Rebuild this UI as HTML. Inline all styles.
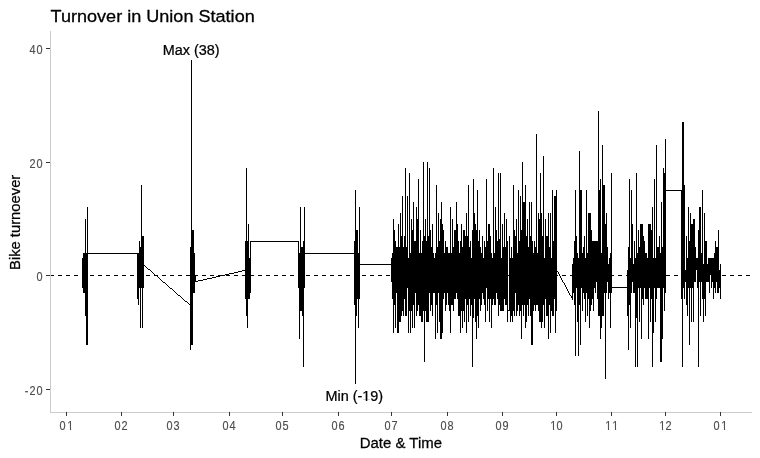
<!DOCTYPE html>
<html lang="en"><head><meta charset="utf-8"><title>Turnover in Union Station</title>
<style>
html,body{margin:0;padding:0;background:#fff;}
body{width:760px;height:458px;overflow:hidden;position:relative;font-family:"Liberation Sans",Arial,sans-serif;}
svg{position:absolute;left:0;top:0;display:block;}
text{font-family:"Liberation Sans",Arial,sans-serif;}
.title{font-size:18px;fill:#000;stroke:#000;stroke-width:0.3px;}
.lab{font-size:15px;fill:#000;stroke:#000;stroke-width:0.25px;}
.tick{font-size:11.73px;fill:#4d4d4d;stroke:#4d4d4d;stroke-width:0.15px;}
</style></head><body>
<svg width="760" height="458" viewBox="0 0 760 458">
<rect x="0" y="0" width="760" height="458" fill="#fff"/>

<g id="series" shape-rendering="crispEdges" fill="#000" stroke="none">
<rect x="82" y="258" width="1" height="30"/>
<rect x="83" y="253" width="2" height="40"/>
<rect x="85" y="219" width="1" height="97"/>
<rect x="86" y="253" width="1" height="92"/>
<rect x="87" y="207" width="1" height="138"/>
<rect x="137" y="253" width="1" height="46"/>
<rect x="138" y="253" width="1" height="52"/>
<rect x="139" y="241" width="1" height="47"/>
<rect x="140" y="247" width="1" height="81"/>
<rect x="141" y="185" width="1" height="103"/>
<rect x="142" y="236" width="1" height="92"/>
<rect x="143" y="236" width="1" height="52"/>
<rect x="190" y="247" width="1" height="103"/>
<rect x="191" y="60" width="1" height="285"/>
<rect x="192" y="230" width="1" height="115"/>
<rect x="193" y="230" width="1" height="63"/>
<rect x="194" y="253" width="1" height="40"/>
<rect x="195" y="275" width="1" height="7"/>
<rect x="245" y="241" width="1" height="58"/>
<rect x="246" y="168" width="1" height="148"/>
<rect x="247" y="241" width="1" height="87"/>
<rect x="248" y="224" width="1" height="75"/>
<rect x="249" y="258" width="1" height="41"/>
<rect x="250" y="241" width="1" height="52"/>
<rect x="298" y="241" width="1" height="47"/>
<rect x="299" y="253" width="1" height="86"/>
<rect x="300" y="207" width="1" height="104"/>
<rect x="301" y="247" width="1" height="64"/>
<rect x="302" y="247" width="1" height="69"/>
<rect x="303" y="241" width="1" height="126"/>
<rect x="304" y="207" width="1" height="81"/>
<rect x="354" y="241" width="1" height="64"/>
<rect x="355" y="190" width="1" height="194"/>
<rect x="356" y="230" width="1" height="86"/>
<rect x="357" y="230" width="1" height="69"/>
<rect x="358" y="253" width="1" height="75"/>
<rect x="359" y="207" width="1" height="92"/>
<rect x="391" y="258" width="1" height="24"/>
<rect x="392" y="253" width="1" height="46"/>
<rect x="393" y="219" width="1" height="114"/>
<rect x="394" y="230" width="1" height="75"/>
<rect x="395" y="241" width="1" height="87"/>
<rect x="396" y="247" width="1" height="46"/>
<rect x="397" y="247" width="1" height="86"/>
<rect x="398" y="224" width="1" height="109"/>
<rect x="399" y="247" width="1" height="75"/>
<rect x="400" y="213" width="1" height="109"/>
<rect x="401" y="236" width="1" height="80"/>
<rect x="402" y="196" width="1" height="115"/>
<rect x="403" y="247" width="1" height="69"/>
<rect x="404" y="236" width="1" height="63"/>
<rect x="405" y="168" width="1" height="148"/>
<rect x="406" y="247" width="1" height="69"/>
<rect x="407" y="196" width="1" height="92"/>
<rect x="408" y="258" width="1" height="75"/>
<rect x="409" y="173" width="1" height="138"/>
<rect x="410" y="253" width="1" height="80"/>
<rect x="411" y="219" width="1" height="92"/>
<rect x="412" y="230" width="1" height="98"/>
<rect x="413" y="202" width="1" height="103"/>
<rect x="414" y="241" width="1" height="87"/>
<rect x="415" y="241" width="1" height="52"/>
<rect x="416" y="207" width="1" height="109"/>
<rect x="417" y="219" width="1" height="92"/>
<rect x="418" y="179" width="1" height="126"/>
<rect x="419" y="253" width="1" height="63"/>
<rect x="420" y="230" width="1" height="86"/>
<rect x="421" y="253" width="1" height="69"/>
<rect x="422" y="241" width="1" height="81"/>
<rect x="423" y="162" width="1" height="149"/>
<rect x="424" y="236" width="1" height="126"/>
<rect x="425" y="219" width="1" height="92"/>
<rect x="426" y="241" width="1" height="81"/>
<rect x="427" y="162" width="1" height="160"/>
<rect x="428" y="236" width="1" height="86"/>
<rect x="429" y="168" width="1" height="125"/>
<rect x="430" y="230" width="1" height="81"/>
<rect x="431" y="247" width="1" height="58"/>
<rect x="432" y="224" width="1" height="92"/>
<rect x="433" y="253" width="1" height="40"/>
<rect x="434" y="258" width="1" height="35"/>
<rect x="435" y="253" width="1" height="86"/>
<rect x="436" y="185" width="1" height="120"/>
<rect x="437" y="247" width="1" height="86"/>
<rect x="438" y="213" width="1" height="80"/>
<rect x="439" y="241" width="1" height="81"/>
<rect x="440" y="219" width="1" height="120"/>
<rect x="441" y="202" width="1" height="137"/>
<rect x="442" y="224" width="1" height="109"/>
<rect x="443" y="230" width="1" height="69"/>
<rect x="444" y="253" width="1" height="40"/>
<rect x="445" y="241" width="1" height="70"/>
<rect x="446" y="247" width="1" height="58"/>
<rect x="447" y="247" width="1" height="46"/>
<rect x="448" y="253" width="1" height="52"/>
<rect x="449" y="253" width="1" height="58"/>
<rect x="450" y="207" width="1" height="126"/>
<rect x="451" y="253" width="1" height="52"/>
<rect x="452" y="219" width="1" height="86"/>
<rect x="453" y="247" width="1" height="64"/>
<rect x="454" y="230" width="2" height="69"/>
<rect x="456" y="202" width="1" height="91"/>
<rect x="457" y="224" width="1" height="75"/>
<rect x="458" y="241" width="1" height="75"/>
<rect x="459" y="253" width="1" height="63"/>
<rect x="460" y="241" width="1" height="92"/>
<rect x="461" y="224" width="1" height="87"/>
<rect x="462" y="247" width="1" height="81"/>
<rect x="463" y="230" width="1" height="81"/>
<rect x="464" y="230" width="1" height="92"/>
<rect x="465" y="236" width="1" height="63"/>
<rect x="466" y="213" width="1" height="120"/>
<rect x="467" y="236" width="1" height="69"/>
<rect x="468" y="185" width="1" height="137"/>
<rect x="469" y="247" width="1" height="52"/>
<rect x="470" y="241" width="1" height="75"/>
<rect x="471" y="258" width="1" height="47"/>
<rect x="472" y="230" width="1" height="137"/>
<rect x="473" y="179" width="1" height="139"/>
<rect x="474" y="213" width="1" height="86"/>
<rect x="475" y="224" width="1" height="98"/>
<rect x="476" y="230" width="1" height="109"/>
<rect x="477" y="190" width="1" height="126"/>
<rect x="478" y="241" width="1" height="87"/>
<rect x="479" y="230" width="1" height="69"/>
<rect x="480" y="247" width="1" height="64"/>
<rect x="481" y="253" width="1" height="52"/>
<rect x="482" y="236" width="1" height="57"/>
<rect x="483" y="258" width="1" height="41"/>
<rect x="484" y="241" width="1" height="64"/>
<rect x="485" y="247" width="1" height="75"/>
<rect x="486" y="179" width="1" height="109"/>
<rect x="487" y="241" width="1" height="70"/>
<rect x="488" y="224" width="1" height="75"/>
<rect x="489" y="224" width="1" height="98"/>
<rect x="490" y="236" width="1" height="63"/>
<rect x="491" y="253" width="1" height="75"/>
<rect x="492" y="258" width="1" height="47"/>
<rect x="493" y="168" width="1" height="131"/>
<rect x="494" y="253" width="1" height="52"/>
<rect x="495" y="207" width="1" height="98"/>
<rect x="496" y="230" width="1" height="63"/>
<rect x="497" y="241" width="1" height="58"/>
<rect x="498" y="173" width="1" height="143"/>
<rect x="499" y="239" width="1" height="66"/>
<rect x="500" y="173" width="1" height="138"/>
<rect x="501" y="258" width="1" height="53"/>
<rect x="502" y="224" width="1" height="87"/>
<rect x="503" y="247" width="1" height="64"/>
<rect x="504" y="213" width="1" height="86"/>
<rect x="505" y="247" width="1" height="58"/>
<rect x="506" y="219" width="1" height="86"/>
<rect x="507" y="241" width="1" height="81"/>
<rect x="508" y="310" width="1" height="1"/>
<rect x="509" y="236" width="1" height="75"/>
<rect x="510" y="258" width="1" height="64"/>
<rect x="511" y="247" width="1" height="69"/>
<rect x="512" y="258" width="1" height="64"/>
<rect x="513" y="185" width="1" height="126"/>
<rect x="514" y="230" width="1" height="86"/>
<rect x="515" y="236" width="1" height="57"/>
<rect x="516" y="219" width="1" height="97"/>
<rect x="517" y="253" width="1" height="58"/>
<rect x="518" y="190" width="1" height="115"/>
<rect x="519" y="241" width="1" height="75"/>
<rect x="520" y="196" width="1" height="115"/>
<rect x="521" y="230" width="1" height="109"/>
<rect x="522" y="162" width="1" height="143"/>
<rect x="523" y="202" width="1" height="114"/>
<rect x="524" y="202" width="1" height="103"/>
<rect x="525" y="185" width="1" height="143"/>
<rect x="526" y="236" width="1" height="86"/>
<rect x="527" y="219" width="1" height="86"/>
<rect x="528" y="247" width="1" height="69"/>
<rect x="529" y="202" width="1" height="97"/>
<rect x="530" y="236" width="1" height="80"/>
<rect x="531" y="202" width="1" height="143"/>
<rect x="532" y="241" width="1" height="104"/>
<rect x="533" y="253" width="1" height="58"/>
<rect x="534" y="241" width="1" height="64"/>
<rect x="535" y="247" width="1" height="64"/>
<rect x="536" y="134" width="1" height="171"/>
<rect x="537" y="253" width="1" height="52"/>
<rect x="538" y="213" width="1" height="98"/>
<rect x="539" y="219" width="1" height="103"/>
<rect x="540" y="173" width="1" height="149"/>
<rect x="541" y="213" width="1" height="115"/>
<rect x="542" y="236" width="1" height="86"/>
<rect x="543" y="156" width="1" height="149"/>
<rect x="544" y="258" width="1" height="70"/>
<rect x="545" y="219" width="1" height="80"/>
<rect x="546" y="236" width="2" height="80"/>
<rect x="548" y="213" width="1" height="126"/>
<rect x="549" y="247" width="1" height="58"/>
<rect x="550" y="213" width="1" height="120"/>
<rect x="551" y="258" width="1" height="53"/>
<rect x="552" y="190" width="1" height="126"/>
<rect x="553" y="241" width="1" height="75"/>
<rect x="554" y="196" width="1" height="103"/>
<rect x="555" y="196" width="1" height="137"/>
<rect x="556" y="190" width="1" height="121"/>
<rect x="572" y="264" width="1" height="35"/>
<rect x="573" y="258" width="1" height="35"/>
<rect x="574" y="241" width="1" height="64"/>
<rect x="575" y="190" width="1" height="166"/>
<rect x="576" y="236" width="1" height="52"/>
<rect x="577" y="253" width="1" height="69"/>
<rect x="578" y="258" width="1" height="98"/>
<rect x="579" y="151" width="1" height="154"/>
<rect x="580" y="190" width="1" height="155"/>
<rect x="581" y="190" width="1" height="98"/>
<rect x="582" y="253" width="1" height="58"/>
<rect x="583" y="247" width="1" height="46"/>
<rect x="584" y="236" width="1" height="63"/>
<rect x="585" y="258" width="1" height="64"/>
<rect x="586" y="190" width="1" height="103"/>
<rect x="587" y="253" width="1" height="63"/>
<rect x="588" y="213" width="1" height="86"/>
<rect x="589" y="213" width="1" height="115"/>
<rect x="590" y="213" width="1" height="98"/>
<rect x="591" y="230" width="1" height="75"/>
<rect x="592" y="241" width="1" height="58"/>
<rect x="593" y="241" width="1" height="70"/>
<rect x="594" y="241" width="1" height="47"/>
<rect x="595" y="241" width="1" height="52"/>
<rect x="596" y="241" width="1" height="41"/>
<rect x="597" y="241" width="1" height="58"/>
<rect x="598" y="111" width="1" height="205"/>
<rect x="599" y="190" width="1" height="126"/>
<rect x="600" y="179" width="1" height="160"/>
<rect x="601" y="253" width="1" height="75"/>
<rect x="602" y="145" width="1" height="171"/>
<rect x="603" y="185" width="1" height="131"/>
<rect x="604" y="185" width="1" height="108"/>
<rect x="605" y="224" width="1" height="155"/>
<rect x="606" y="213" width="1" height="80"/>
<rect x="607" y="247" width="1" height="35"/>
<rect x="608" y="264" width="1" height="35"/>
<rect x="609" y="258" width="1" height="35"/>
<rect x="610" y="253" width="1" height="75"/>
<rect x="611" y="173" width="1" height="120"/>
<rect x="627" y="270" width="1" height="46"/>
<rect x="628" y="247" width="1" height="103"/>
<rect x="629" y="179" width="1" height="126"/>
<rect x="630" y="258" width="1" height="70"/>
<rect x="631" y="190" width="1" height="103"/>
<rect x="632" y="224" width="1" height="58"/>
<rect x="633" y="264" width="1" height="29"/>
<rect x="634" y="241" width="1" height="52"/>
<rect x="635" y="258" width="1" height="109"/>
<rect x="636" y="173" width="1" height="145"/>
<rect x="637" y="253" width="1" height="114"/>
<rect x="638" y="230" width="1" height="58"/>
<rect x="639" y="247" width="1" height="75"/>
<rect x="640" y="224" width="1" height="64"/>
<rect x="641" y="224" width="1" height="115"/>
<rect x="642" y="224" width="1" height="75"/>
<rect x="643" y="236" width="1" height="69"/>
<rect x="644" y="241" width="1" height="47"/>
<rect x="645" y="253" width="2" height="46"/>
<rect x="647" y="258" width="1" height="41"/>
<rect x="648" y="224" width="1" height="115"/>
<rect x="649" y="224" width="1" height="64"/>
<rect x="650" y="224" width="1" height="98"/>
<rect x="651" y="230" width="1" height="69"/>
<rect x="652" y="207" width="1" height="160"/>
<rect x="653" y="258" width="1" height="75"/>
<rect x="654" y="179" width="1" height="109"/>
<rect x="655" y="258" width="1" height="64"/>
<rect x="656" y="145" width="1" height="154"/>
<rect x="657" y="247" width="2" height="41"/>
<rect x="659" y="236" width="1" height="52"/>
<rect x="660" y="253" width="1" height="109"/>
<rect x="661" y="202" width="1" height="160"/>
<rect x="662" y="247" width="1" height="92"/>
<rect x="663" y="168" width="1" height="120"/>
<rect x="664" y="173" width="1" height="138"/>
<rect x="665" y="139" width="1" height="154"/>
<rect x="681" y="190" width="1" height="109"/>
<rect x="682" y="122" width="1" height="245"/>
<rect x="683" y="122" width="1" height="166"/>
<rect x="684" y="185" width="1" height="114"/>
<rect x="685" y="270" width="1" height="12"/>
<rect x="686" y="236" width="1" height="69"/>
<rect x="687" y="258" width="1" height="58"/>
<rect x="688" y="207" width="1" height="81"/>
<rect x="689" y="241" width="1" height="104"/>
<rect x="690" y="213" width="1" height="75"/>
<rect x="691" y="224" width="1" height="98"/>
<rect x="692" y="224" width="1" height="64"/>
<rect x="693" y="219" width="1" height="103"/>
<rect x="694" y="219" width="1" height="63"/>
<rect x="695" y="247" width="1" height="35"/>
<rect x="696" y="258" width="1" height="12"/>
<rect x="697" y="258" width="1" height="30"/>
<rect x="698" y="230" width="1" height="137"/>
<rect x="699" y="207" width="1" height="75"/>
<rect x="700" y="207" width="1" height="109"/>
<rect x="701" y="253" width="1" height="29"/>
<rect x="702" y="190" width="1" height="109"/>
<rect x="703" y="264" width="1" height="58"/>
<rect x="704" y="213" width="1" height="86"/>
<rect x="705" y="241" width="1" height="75"/>
<rect x="706" y="241" width="1" height="41"/>
<rect x="707" y="264" width="1" height="18"/>
<rect x="708" y="258" width="1" height="24"/>
<rect x="709" y="258" width="1" height="35"/>
<rect x="710" y="258" width="1" height="17"/>
<rect x="711" y="258" width="1" height="30"/>
<rect x="712" y="258" width="1" height="24"/>
<rect x="713" y="258" width="1" height="41"/>
<rect x="714" y="253" width="1" height="35"/>
<rect x="715" y="241" width="1" height="52"/>
<rect x="716" y="247" width="1" height="35"/>
<rect x="717" y="247" width="1" height="46"/>
<rect x="718" y="230" width="1" height="63"/>
<rect x="719" y="270" width="1" height="18"/>
<rect x="720" y="264" width="1" height="35"/>
<rect x="88" y="253" width="49" height="1"/>
<rect x="144" y="265" width="1" height="1"/>
<rect x="145" y="266" width="1" height="1"/>
<rect x="146" y="267" width="1" height="1"/>
<rect x="147" y="268" width="1" height="1"/>
<rect x="148" y="269" width="2" height="1"/>
<rect x="150" y="270" width="1" height="1"/>
<rect x="151" y="271" width="1" height="1"/>
<rect x="152" y="272" width="1" height="1"/>
<rect x="153" y="273" width="1" height="1"/>
<rect x="154" y="274" width="1" height="1"/>
<rect x="155" y="275" width="2" height="1"/>
<rect x="157" y="276" width="1" height="1"/>
<rect x="158" y="277" width="1" height="1"/>
<rect x="159" y="278" width="1" height="1"/>
<rect x="160" y="279" width="1" height="1"/>
<rect x="161" y="280" width="1" height="1"/>
<rect x="162" y="281" width="1" height="1"/>
<rect x="163" y="282" width="2" height="1"/>
<rect x="165" y="283" width="1" height="1"/>
<rect x="166" y="284" width="1" height="1"/>
<rect x="167" y="285" width="1" height="1"/>
<rect x="168" y="286" width="1" height="1"/>
<rect x="169" y="287" width="1" height="1"/>
<rect x="170" y="288" width="2" height="1"/>
<rect x="172" y="289" width="1" height="1"/>
<rect x="173" y="290" width="1" height="1"/>
<rect x="174" y="291" width="1" height="1"/>
<rect x="175" y="292" width="1" height="1"/>
<rect x="176" y="293" width="1" height="1"/>
<rect x="177" y="294" width="1" height="1"/>
<rect x="178" y="295" width="2" height="1"/>
<rect x="180" y="296" width="1" height="1"/>
<rect x="181" y="297" width="1" height="1"/>
<rect x="182" y="298" width="1" height="1"/>
<rect x="183" y="299" width="1" height="1"/>
<rect x="184" y="300" width="1" height="1"/>
<rect x="185" y="301" width="2" height="1"/>
<rect x="187" y="302" width="1" height="1"/>
<rect x="188" y="303" width="1" height="1"/>
<rect x="189" y="304" width="1" height="1"/>
<rect x="190" y="305" width="1" height="1"/>
<rect x="195" y="281" width="3" height="1"/>
<rect x="198" y="280" width="5" height="1"/>
<rect x="203" y="279" width="4" height="1"/>
<rect x="207" y="278" width="5" height="1"/>
<rect x="212" y="277" width="4" height="1"/>
<rect x="216" y="276" width="4" height="1"/>
<rect x="220" y="275" width="5" height="1"/>
<rect x="225" y="274" width="4" height="1"/>
<rect x="229" y="273" width="5" height="1"/>
<rect x="234" y="272" width="4" height="1"/>
<rect x="238" y="271" width="4" height="1"/>
<rect x="242" y="270" width="4" height="1"/>
<rect x="251" y="241" width="47" height="1"/>
<rect x="305" y="253" width="49" height="1"/>
<rect x="360" y="264" width="31" height="1"/>
<rect x="557" y="271" width="1" height="1"/>
<rect x="558" y="272" width="1" height="2"/>
<rect x="559" y="274" width="1" height="2"/>
<rect x="560" y="276" width="1" height="2"/>
<rect x="561" y="278" width="1" height="2"/>
<rect x="562" y="280" width="1" height="2"/>
<rect x="563" y="282" width="1" height="1"/>
<rect x="564" y="283" width="1" height="2"/>
<rect x="565" y="285" width="1" height="2"/>
<rect x="566" y="287" width="1" height="2"/>
<rect x="567" y="289" width="1" height="2"/>
<rect x="568" y="291" width="1" height="2"/>
<rect x="569" y="293" width="1" height="2"/>
<rect x="570" y="295" width="1" height="1"/>
<rect x="571" y="296" width="1" height="2"/>
<rect x="572" y="298" width="1" height="2"/>
<rect x="612" y="287" width="15" height="1"/>
<rect x="666" y="190" width="15" height="1"/>
</g>
<g id="axes" shape-rendering="crispEdges">
<path d="M50 275.5h4M58 275.5h4M66 275.5h4M74 275.5h4M82 275.5h4M90 275.5h4M98 275.5h4M106 275.5h4M114 275.5h4M122 275.5h4M130 275.5h4M138 275.5h4M146 275.5h4M154 275.5h4M162 275.5h4M170 275.5h4M178 275.5h4M186 275.5h4M194 275.5h4M202 275.5h4M210 275.5h4M218 275.5h4M226 275.5h4M234 275.5h4M242 275.5h4M250 275.5h4M258 275.5h4M266 275.5h4M274 275.5h4M282 275.5h4M290 275.5h4M298 275.5h4M306 275.5h4M314 275.5h4M322 275.5h4M330 275.5h4M338 275.5h4M346 275.5h4M354 275.5h4M362 275.5h4M370 275.5h4M378 275.5h4M386 275.5h4M394 275.5h4M402 275.5h4M410 275.5h4M418 275.5h4M426 275.5h4M434 275.5h4M442 275.5h4M450 275.5h4M458 275.5h4M466 275.5h4M474 275.5h4M482 275.5h4M490 275.5h4M498 275.5h4M506 275.5h4M514 275.5h4M522 275.5h4M530 275.5h4M538 275.5h4M546 275.5h4M554 275.5h4M562 275.5h4M570 275.5h4M578 275.5h4M586 275.5h4M594 275.5h4M602 275.5h4M610 275.5h4M618 275.5h4M626 275.5h4M634 275.5h4M642 275.5h4M650 275.5h4M658 275.5h4M666 275.5h4M674 275.5h4M682 275.5h4M690 275.5h4M698 275.5h4M706 275.5h4M714 275.5h4M722 275.5h4M730 275.5h4M738 275.5h4M746 275.5h4" stroke="#000" stroke-width="1" fill="none"/>
<rect x="50" y="31" width="1" height="382" fill="#cccccc"/>
<rect x="50" y="412" width="702" height="1" fill="#cccccc"/>
<rect x="46" y="48" width="4" height="1" fill="#333"/>
<rect x="46" y="162" width="4" height="1" fill="#333"/>
<rect x="46" y="275" width="4" height="1" fill="#333"/>
<rect x="46" y="389" width="4" height="1" fill="#333"/>
<rect x="66" y="412" width="1" height="4" fill="#333"/>
<rect x="121" y="412" width="1" height="4" fill="#333"/>
<rect x="173" y="412" width="1" height="4" fill="#333"/>
<rect x="229" y="412" width="1" height="4" fill="#333"/>
<rect x="282" y="412" width="1" height="4" fill="#333"/>
<rect x="338" y="412" width="1" height="4" fill="#333"/>
<rect x="391" y="412" width="1" height="4" fill="#333"/>
<rect x="447" y="412" width="1" height="4" fill="#333"/>
<rect x="502" y="412" width="1" height="4" fill="#333"/>
<rect x="556" y="412" width="1" height="4" fill="#333"/>
<rect x="611" y="412" width="1" height="4" fill="#333"/>
<rect x="665" y="412" width="1" height="4" fill="#333"/>
<rect x="720" y="412" width="1" height="4" fill="#333"/>
</g>
<g id="ylabels">
<text class="tick" transform="translate(0,54) scale(0.93,1.09)" x="31.67 39.19" y="0">40</text>
<text class="tick" transform="translate(0,168) scale(0.93,1.09)" x="31.67 39.19" y="0">20</text>
<text class="tick" transform="translate(0,281) scale(0.93,1.09)" x="39.19" y="0">0</text>
<text class="tick" transform="translate(0,395) scale(0.93,1.09)" x="26.72 31.67 39.19" y="0">-20</text>
</g>
<g id="xlabels">
<g transform="translate(0,430) scale(0.93,1.09)"><text class="tick" x="63.98 72.37" y="0">01</text><rect x="72.60" y="-1.43" width="2.60" height="1.83" fill="#fff"/><rect x="76.47" y="-1.43" width="3.05" height="1.83" fill="#fff"/></g>
<g transform="translate(0,430) scale(0.93,1.09)"><text class="tick" x="123.12 130.65" y="0">02</text></g>
<g transform="translate(0,430) scale(0.93,1.09)"><text class="tick" x="179.03 186.56" y="0">03</text></g>
<g transform="translate(0,430) scale(0.93,1.09)"><text class="tick" x="239.25 246.77" y="0">04</text></g>
<g transform="translate(0,430) scale(0.93,1.09)"><text class="tick" x="296.24 303.76" y="0">05</text></g>
<g transform="translate(0,430) scale(0.93,1.09)"><text class="tick" x="356.45 363.98" y="0">06</text></g>
<g transform="translate(0,430) scale(0.93,1.09)"><text class="tick" x="413.44 420.97" y="0">07</text></g>
<g transform="translate(0,430) scale(0.93,1.09)"><text class="tick" x="473.66 481.18" y="0">08</text></g>
<g transform="translate(0,430) scale(0.93,1.09)"><text class="tick" x="532.80 540.32" y="0">09</text></g>
<g transform="translate(0,430) scale(0.93,1.09)"><text class="tick" x="591.72 598.39" y="0">10</text><rect x="591.96" y="-1.43" width="2.60" height="1.83" fill="#fff"/><rect x="595.83" y="-1.43" width="3.05" height="1.83" fill="#fff"/></g>
<g transform="translate(0,430) scale(0.93,1.09)"><text class="tick" x="650.86 658.39" y="0">11</text><rect x="651.09" y="-1.43" width="2.60" height="1.83" fill="#fff"/><rect x="654.97" y="-1.43" width="3.05" height="1.83" fill="#fff"/><rect x="658.62" y="-1.43" width="2.60" height="1.83" fill="#fff"/><rect x="662.49" y="-1.43" width="3.05" height="1.83" fill="#fff"/></g>
<g transform="translate(0,430) scale(0.93,1.09)"><text class="tick" x="708.92 715.59" y="0">12</text><rect x="709.16" y="-1.43" width="2.60" height="1.83" fill="#fff"/><rect x="713.03" y="-1.43" width="3.05" height="1.83" fill="#fff"/></g>
<g transform="translate(0,430) scale(0.93,1.09)"><text class="tick" x="767.20 775.59" y="0">01</text><rect x="775.83" y="-1.43" width="2.60" height="1.83" fill="#fff"/><rect x="779.70" y="-1.43" width="3.05" height="1.83" fill="#fff"/></g>
</g>
<g transform="translate(50.55,21.60) scale(1.0039,0.9650)"><text class="title">Turnover in Union Station</text></g>
<g transform="translate(359.73,448.28) scale(0.9987,1.0329)"><text class="lab">Date &amp; Time</text></g>
<g transform="translate(19.93,269.97) rotate(-90) scale(0.9858,1.0184)"><text class="lab">Bike turnoever</text></g>
<g transform="translate(162.75,54.63) scale(0.9622,0.9956)"><text class="lab">Max (38)</text></g>
<g transform="translate(325.40,401.40) scale(0.9637,0.9889)"><text class="lab">Min (-19)</text><rect x="38.56" y="-1.67" width="3.35" height="2.07" fill="#fff"/><rect x="43.48" y="-1.67" width="3.70" height="2.07" fill="#fff"/></g>
</svg></body></html>
